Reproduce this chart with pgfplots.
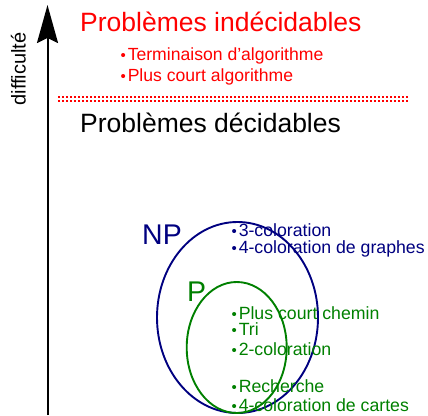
\documentclass[border=0pt]{standalone}
\usepackage{pgfplots}
\pgfplotsset{compat=1.18}
\usepackage{fontspec}
\setmainfont{Liberation Sans}
\usetikzlibrary{arrows.meta}
\definecolor{npblue}{HTML}{000080}
\definecolor{pgreen}{HTML}{008000}
\definecolor{ured}{HTML}{FF0000}
\newcommand{\bul}{{\fontsize{15}{15}\selectfont •}\hspace{1.8pt}}
\begin{document}
\begin{tikzpicture}
\begin{axis}[
  width=428pt, height=415pt, scale only axis,
  xmin=0, xmax=428, ymin=0, ymax=415, y dir=reverse,
  hide axis, clip=false, enlargelimits=false]
% axis arrow
\addplot[black, line width=2pt, -{Stealth[length=38pt,width=21pt,inset=5pt]}] coordinates {(47.5,415) (47.5,5)};
% dotted separator (two rows)
\addplot[ured, line width=2pt, dash pattern=on 2pt off 2pt] coordinates {(58,97) (408,97)};
\addplot[ured, line width=2pt, dash pattern=on 2pt off 2pt] coordinates {(58,101) (408,101)};
% ellipses
\draw[npblue, line width=1.9pt] (axis cs:237.5,317.5) ellipse [x radius=80.5, y radius=95.5];
\draw[pgreen, line width=1.9pt] (axis cs:236.7,347.5) ellipse [x radius=50, y radius=65.5];
% texts
\node[rotate=90, anchor=base, font=\fontsize{20}{24}\selectfont] at (axis cs:25.5,69) {difficulté};
\node[anchor=base west, inner sep=0pt, text=ured, font=\fontsize{26.5}{30}\selectfont] at (axis cs:80,31.5) {Problèmes indécidables};
\node[anchor=base west, inner sep=0pt, text=ured, font=\fontsize{17.6}{20}\selectfont] at (axis cs:120.5,60) {\bul Terminaison d\char"27 algorithme};
\node[anchor=base west, inner sep=0pt, text=ured, font=\fontsize{17.6}{20}\selectfont] at (axis cs:120.5,81.5) {\bul Plus court algorithme};
\node[anchor=base west, inner sep=0pt, text=black, font=\fontsize{26.5}{30}\selectfont] at (axis cs:80,132) {Problèmes décidables};
\node[anchor=base west, inner sep=0pt, text=npblue, font=\fontsize{28.5}{32}\selectfont] at (axis cs:142,244.5) {NP};
\node[anchor=base west, inner sep=0pt, text=pgreen, font=\fontsize{28.5}{32}\selectfont] at (axis cs:187,301) {P};
\node[anchor=base west, inner sep=0pt, text=npblue, font=\fontsize{17.7}{20}\selectfont] at (axis cs:231.5,236.5) {\bul 3-coloration};
\node[anchor=base west, inner sep=0pt, text=npblue, font=\fontsize{17.7}{20}\selectfont] at (axis cs:231.5,253.5) {\bul 4-coloration de graphes};
\node[anchor=base west, inner sep=0pt, text=pgreen, font=\fontsize{17.7}{20}\selectfont] at (axis cs:231.5,319) {\bul Plus court chemin};
\node[anchor=base west, inner sep=0pt, text=pgreen, font=\fontsize{17.7}{20}\selectfont] at (axis cs:231.5,335.5) {\bul Tri};
\node[anchor=base west, inner sep=0pt, text=pgreen, font=\fontsize{17.7}{20}\selectfont] at (axis cs:231.5,355) {\bul 2-coloration};
\node[anchor=base west, inner sep=0pt, text=pgreen, font=\fontsize{17.7}{20}\selectfont] at (axis cs:231.5,392.5) {\bul Recherche};
\node[anchor=base west, inner sep=0pt, text=pgreen, font=\fontsize{17.7}{20}\selectfont] at (axis cs:231.5,411.5) {\bul 4-coloration de cartes};
\end{axis}
\pgfresetboundingbox
\useasboundingbox (current axis.south west) rectangle (current axis.north east);
\end{tikzpicture}
\end{document}
